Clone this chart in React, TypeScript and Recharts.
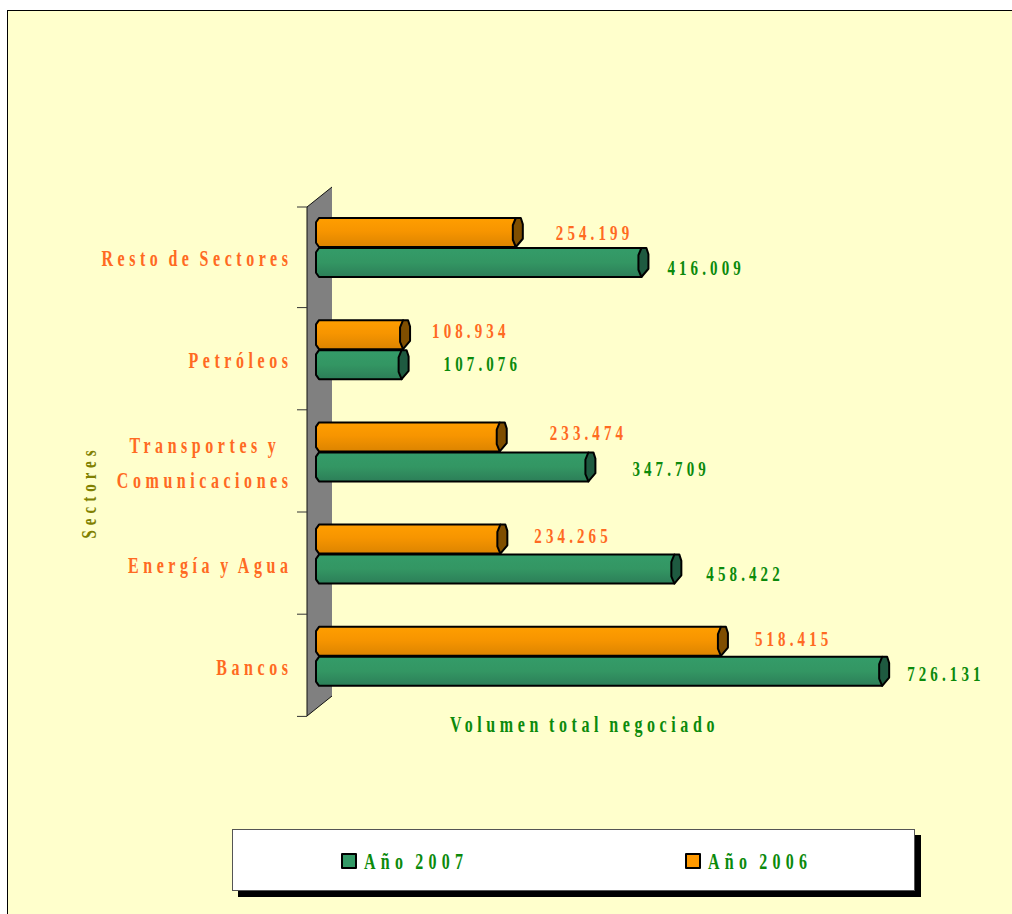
import React from "react";
import { BarChart, Bar, XAxis, YAxis, Legend, LabelList, Customized } from "recharts";

const SECTORS = ["Resto de Sectores", "Petróleos", "Transportes y  \nComunicaciones", "Energía y Agua", "Bancos"];
const VOLUME_2006 = [254199, 108934, 233474, 234265, 518415];
const VOLUME_2007 = [416009, 107076, 347709, 458422, 726131];

const LABEL_DX_2006 = [33, 22, 43, 27, 27];
const LABEL_DY_2006 = [0, -4, -4, -3, -2];
const LABEL_DX_2007 = [19, 35, 37, 25, 18];
const LABEL_DY_2007 = [5, -1, 2, 5, 3];

const rows = SECTORS.map((name, i) => ({ name, y2006: VOLUME_2006[i], y2007: VOLUME_2007[i] }));

const W = 1012;
const H = 914;
const SERIF = "'Liberation Serif', 'Times New Roman', serif";
const ORANGE_TEXT = "#FF6A22";
const GREEN_TEXT = "#0B8A0B";
const STRETCH = 1.4;

const fmt = (v: number) => String(v).replace(/\B(?=(\d{3})+$)/g, ".");

function Tall({ x, y, anchor = "start", color, spacing = 4.1, size = 15, rotate = 0, children }: any) {
  return (
    <text
      transform={`translate(${x},${y}) rotate(${rotate}) scale(1,${STRETCH})`}
      textAnchor={anchor}
      fill={color}
      fontFamily={SERIF}
      fontWeight="bold"
      fontSize={size}
      letterSpacing={spacing}
      wordSpacing={-2.5}
      style={{ whiteSpace: "pre" }}
    >
      {children}
    </text>
  );
}

// cylinder drawn by hand: chamfered left end, hexagon cap at the value end
function Cylinder(props: any) {
  const { x, y, width, height, fill } = props;
  const isOrange = fill === "#FF9900";
  const left = x - 6;
  const tip = x + width + 3.5;
  const bodyEnd = tip - 7;
  const t = y + 0.5;
  const b = y + height - 0.5;
  const mid1 = t + (b - t) * 0.25;
  const mid2 = t + (b - t) * 0.75;
  const body = `M${left + 3},${t} L${bodyEnd},${t} L${bodyEnd},${b} L${left + 3},${b} L${left},${mid2 + 3} L${left},${mid1 - 3} Z`;
  const cap = `M${bodyEnd},${t} L${tip - 2},${t} L${tip},${mid1 - 1} L${tip},${mid2 - 1} L${bodyEnd},${b} L${tip - 10},${mid2} L${tip - 10},${mid1} Z`;
  return (
    <g>
      <path d={body} fill={`url(#${isOrange ? "barOrange" : "barGreen"})`} stroke="#000" strokeWidth={2} strokeLinejoin="round" />
      <path d={cap} fill={isOrange ? "#7F4E00" : "#1E5A40"} stroke="#000" strokeWidth={2} strokeLinejoin="round" />
    </g>
  );
}

function SectorTick({ y, payload, index }: any) {
  const lines = String(payload.value).split("\n");
  return (
    <g>
      {index === 0 && <line x1={297} x2={307} y1={y - 40.6} y2={y - 40.6} stroke="#333" />}
      <line x1={297} x2={307} y1={y + 60} y2={y + 60} stroke="#333" />
      {lines.map((line, i) => (
        <Tall key={i} x={292.5} y={y + 18.5 + (i - (lines.length - 1) / 2) * 35} anchor="end" color={ORANGE_TEXT} spacing={4.55} size={16}>
          {line}
        </Tall>
      ))}
    </g>
  );
}

const valueLabel = (dx: number[], dy: number[], color: string) => (p: any) => {
  const { x, y, width, height, value, index } = p;
  return (
    <Tall x={x + width + 3.5 + dx[index]} y={y + height / 2 + dy[index] + 7} color={color}>
      {fmt(value)}
    </Tall>
  );
};

function Wall() {
  return (
    <g>
      <polygon points="307,207 332,187 332,696 307,716" fill="#808080" />
      <polyline points="332,696 307,716 307,207 332,187" fill="none" stroke="#111" />
    </g>
  );
}

function LegendBox({ payload }: any) {
  const items = [...(payload || [])].reverse();
  return (
    <div
      style={{
        position: "relative",
        width: 683,
        height: 62,
        boxSizing: "border-box",
        background: "#fff",
        border: "1px solid #555",
        boxShadow: "6px 6px 0 #000",
      }}
    >
      {items.map((it: any, i: number) => (
        <div key={it.value} style={{ position: "absolute", left: i === 0 ? 108 : 452, top: 0, height: 62, display: "flex", alignItems: "center" }}>
          <span style={{ width: 12, height: 12, background: it.color, border: "2px solid #000", borderRadius: 1, marginRight: 7, display: "inline-block" }} />
          <svg width={130} height={40} style={{ overflow: "visible" }}>
            <Tall x={0} y={28} color={GREEN_TEXT} size={16} spacing={5.3}>{it.value}</Tall>
          </svg>
        </div>
      ))}
    </div>
  );
}

export default function App() {
  return (
    <div style={{ position: "absolute", left: 0, top: 0, width: W, height: H, overflow: "hidden", background: "#fff" }}>
      <div style={{ position: "absolute", left: 7, top: 10, width: W, height: H, background: "#FFFFCC", border: "1px solid #000" }} />
      <div style={{ position: "absolute", left: 0, top: 0 }}>
        <BarChart
          width={W}
          height={H}
          data={rows}
          layout="vertical"
          margin={{ top: 196.5, right: 69, bottom: 176.5, left: 0 }}
          barSize={30}
          barGap={0}
        >
          <defs>
            <linearGradient id="barOrange" x1="0" y1="0" x2="0" y2="1">
              <stop offset="0" stopColor="#FF9E00" />
              <stop offset="0.45" stopColor="#F79500" />
              <stop offset="1" stopColor="#DC8400" />
            </linearGradient>
            <linearGradient id="barGreen" x1="0" y1="0" x2="0" y2="1">
              <stop offset="0" stopColor="#349C69" />
              <stop offset="0.5" stopColor="#339663" />
              <stop offset="1" stopColor="#2C7E58" />
            </linearGradient>
          </defs>
          <Customized component={Wall} />
          <XAxis
            type="number"
            domain={[0, 800000]}
            height={30}
            tick={() => <g />}
            axisLine={false}
            tickLine={false}
            label={{
              value: "Volumen total negociado",
              content: () => (
                <Tall x={450} y={732} color={GREEN_TEXT} size={16} spacing={4.6}>Volumen total negociado</Tall>
              ),
            }}
          />
          <YAxis
            type="category"
            dataKey="name"
            width={322}
            interval={0}
            axisLine={false}
            tickLine={false}
            tick={SectorTick}
            label={{
              value: "Sectores",
              content: () => (
                <Tall x={96} y={492} anchor="middle" rotate={-90} color="#808000" size={15} spacing={5}>Sectores</Tall>
              ),
            }}
          />
          <Bar dataKey="y2006" name="Año 2006" fill="#FF9900" shape={(p: any) => <Cylinder {...p} />} isAnimationActive={false}>
            <LabelList dataKey="y2006" content={valueLabel(LABEL_DX_2006, LABEL_DY_2006, ORANGE_TEXT)} />
          </Bar>
          <Bar dataKey="y2007" name="Año 2007" fill="#339966" shape={(p: any) => <Cylinder {...p} />} isAnimationActive={false}>
            <LabelList dataKey="y2007" content={valueLabel(LABEL_DX_2007, LABEL_DY_2007, GREEN_TEXT)} />
          </Bar>
          <Legend
            layout="horizontal"
            verticalAlign="middle"
            align="center"
            width={683}
            height={62}
            wrapperStyle={{ left: 232, top: 829, width: 683, height: 62 }}
            content={LegendBox}
          />
        </BarChart>
      </div>
    </div>
  );
}
